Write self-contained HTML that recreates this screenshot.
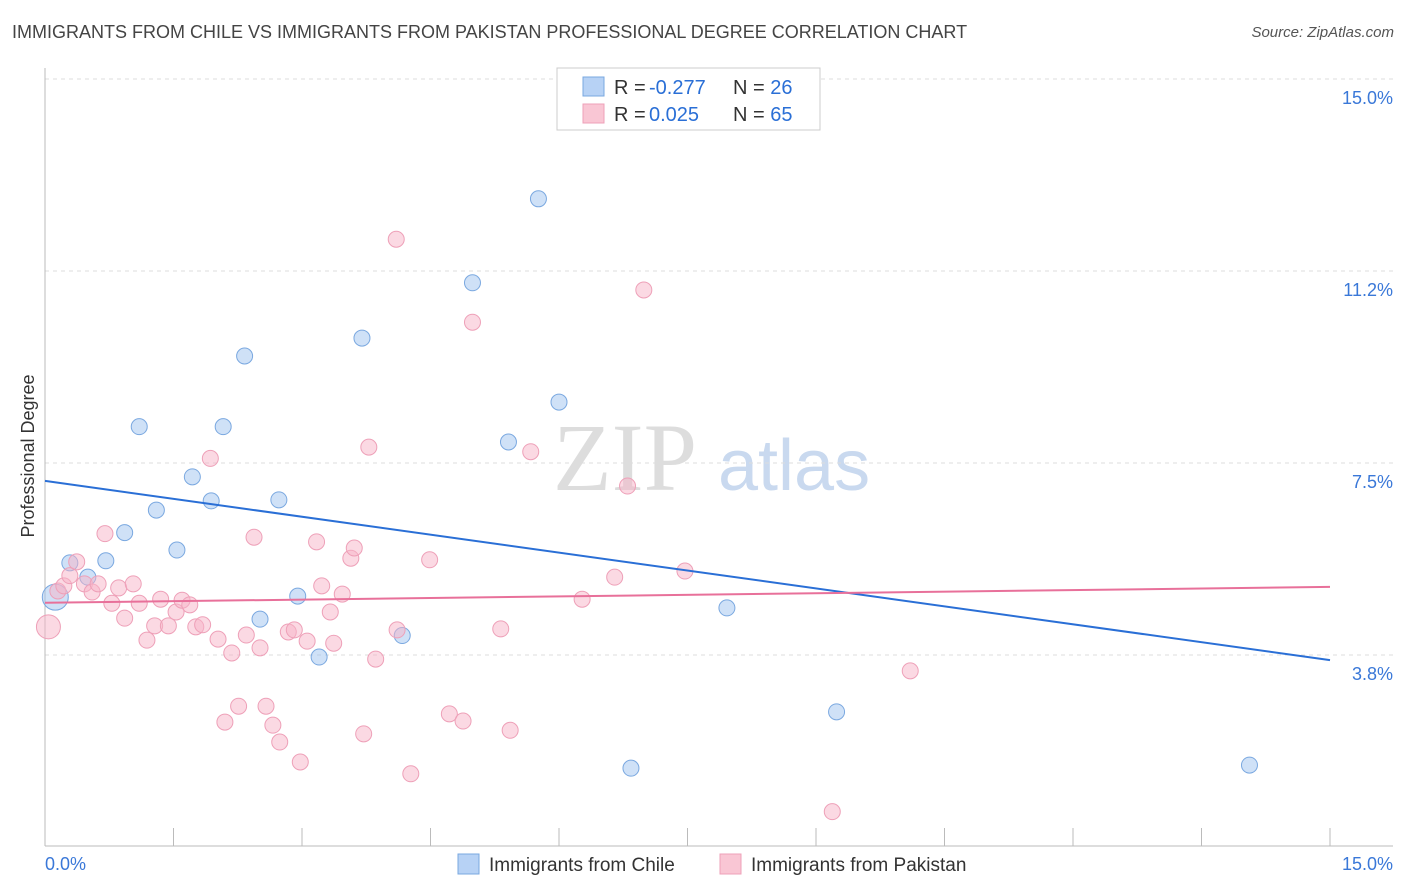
<!DOCTYPE html>
<html><head><meta charset="utf-8">
<style>
body{margin:0;background:#fff;font-family:"Liberation Sans",sans-serif;}
#wrap{position:relative;width:1406px;height:892px;overflow:hidden;}
.title{position:absolute;left:12px;top:22px;font-size:18px;color:#444;}
.source{position:absolute;right:12px;top:24px;font-size:15px;color:#555;font-style:italic;}
</style></head><body>
<div id="wrap">
<div class="title">IMMIGRANTS FROM CHILE VS IMMIGRANTS FROM PAKISTAN PROFESSIONAL DEGREE CORRELATION CHART</div>
<div class="source">Source: ZipAtlas.com</div>
<svg id="chart" width="1406" height="892" style="position:absolute;left:0;top:0"></svg>
</div>
<script>
const chileX=[0.12,0.29,0.5,0.71,0.93,1.1,1.3,1.54,1.72,1.94,2.08,2.33,2.51,2.73,2.95,3.2,3.7,4.17,4.99,5.41,5.76,6.0,6.84,7.96,9.24,14.06];
const chileY=[4.88,5.55,5.27,5.59,6.14,8.21,6.58,5.8,7.23,6.76,8.21,9.59,4.45,6.78,4.9,3.71,9.94,4.13,11.02,7.91,12.66,8.69,1.54,4.67,2.64,1.6];
const pakX=[0.04,0.15,0.22,0.29,0.37,0.46,0.55,0.62,0.7,0.78,0.86,0.93,1.03,1.1,1.19,1.28,1.35,1.44,1.53,1.6,1.69,1.76,1.84,1.93,2.02,2.1,2.18,2.26,2.35,2.44,2.51,2.58,2.66,2.74,2.84,2.91,2.98,3.06,3.17,3.23,3.33,3.37,3.47,3.57,3.61,3.72,3.78,3.86,4.1,4.11,4.27,4.49,4.72,4.88,4.99,5.32,5.43,5.67,6.27,6.65,6.8,6.99,7.47,9.19,10.1];
const pakY=[4.3,5.0,5.1,5.3,5.57,5.14,4.98,5.14,6.12,4.76,5.06,4.47,5.14,4.76,4.04,4.32,4.84,4.32,4.59,4.82,4.73,4.3,4.34,7.59,4.06,2.44,3.79,2.75,4.14,6.05,3.89,2.75,2.38,2.05,4.2,4.24,1.66,4.02,5.96,5.1,4.59,3.98,4.94,5.64,5.84,2.21,7.81,3.67,11.87,4.24,1.43,5.61,2.6,2.46,10.25,4.26,2.28,7.72,4.84,5.27,7.05,10.88,5.39,0.69,3.44];
const chileTrend=[7.15,3.65];
const pakTrend=[4.77,5.08];
const yTicks=[15.0,11.2,7.5,3.8];
const yTickVals=[15,11.25,7.5,3.75];
const X=v=>45+v*85.667, Y=v=>79+(15-v)*51.2;
const svg=document.getElementById('chart'),NS='http://www.w3.org/2000/svg';
function mk(t,a,p){const e=document.createElementNS(NS,t);for(const k in a)e.setAttribute(k,a[k]);(p||svg).appendChild(e);return e;}
let w=mk('text',{x:553,y:490,'font-size':96,'font-family':'Liberation Serif',fill:'#ddd'});w.textContent='ZIP';


w=mk('text',{x:718,y:490,'font-size':72,'font-family':'Liberation Sans',fill:'#c9d9ef'});w.textContent='atlas';


yTickVals.forEach((v,i)=>{
 let g=mk('line',{x1:45,x2:1393,y1:Y(v),y2:Y(v),stroke:'#ddd','stroke-dasharray':'4,4'});
 
 
 let t=mk('text',{x:1393,y:Y(v)+25,'text-anchor':'end','font-size':18,fill:'#3a78d8'});t.textContent=yTicks[i].toFixed(1)+'%';
 
 
});
let a=mk('line',{x1:45,x2:45,y1:68,y2:846,stroke:'#bbb'});


a=mk('line',{x1:45,x2:1393,y1:846,y2:846,stroke:'#bbb'});


for(let i=0;i<=10;i++){let t=mk('line',{x1:X(i*1.5),x2:X(i*1.5),y1:828,y2:846,stroke:'#bbb'});
 
 }
[['0.0%',45,'start'],['15.0%',1393,'end']].forEach(d=>{let t=mk('text',{x:d[1],y:870,'text-anchor':d[2],'font-size':18,fill:'#3a78d8'});t.textContent=d[0];
 
 });
let yt=mk('text',{x:34,y:456,'text-anchor':'middle','font-size':18,fill:'#333',transform:'rotate(-90 34 456)'});yt.textContent='Professional Degree';


chileX.forEach((x,i)=>{let c=mk('circle',{cx:X(x),cy:Y(chileY[i]),r:i==0?13:8,fill:'rgba(160,196,240,0.5)',stroke:'#7aa8e0','stroke-width':1});
 
 });
pakX.forEach((x,i)=>{let c=mk('circle',{cx:X(x),cy:Y(pakY[i]),r:i==0?12:8,fill:'rgba(248,180,200,0.5)',stroke:'#eea0b8','stroke-width':1});
 
 });
let l=mk('line',{x1:X(0),x2:X(15),y1:Y(chileTrend[0]),y2:Y(chileTrend[1]),stroke:'#2a6fd6','stroke-width':2});


l=mk('line',{x1:X(0),x2:X(15),y1:Y(pakTrend[0]),y2:Y(pakTrend[1]),stroke:'#e8709a','stroke-width':2});


let b=mk('rect',{x:557,y:68,width:263,height:62,fill:'#fff',stroke:'#ccc'});


[[77,'#b7d2f5','#7aa8e0','-0.277','26'],[104,'#f9c6d4','#eea0b8','0.025','65']].forEach(d=>{
 let r=mk('rect',{x:583,y:d[0],width:21,height:19,fill:d[1],stroke:d[2]});
 
 
 let t=mk('text',{x:614,y:d[0]+17,'font-size':20,fill:'#333'});
 t.innerHTML='R = <tspan fill="#2a6fd6" x="649">'+d[3]+'</tspan><tspan x="733" fill="#333">N = </tspan><tspan fill="#2a6fd6">'+d[4]+'</tspan>';
 
 
});
[[458,'#b7d2f5','#7aa8e0','Immigrants from Chile'],[720,'#f9c6d4','#eea0b8','Immigrants from Pakistan']].forEach(d=>{
 let r=mk('rect',{x:d[0],y:854,width:21,height:20,fill:d[1],stroke:d[2]});
 
 
 let t=mk('text',{x:d[0]+31,y:871,'font-size':19,fill:'#333'});t.textContent=d[3];
 
 
});
</script>
</body></html>
